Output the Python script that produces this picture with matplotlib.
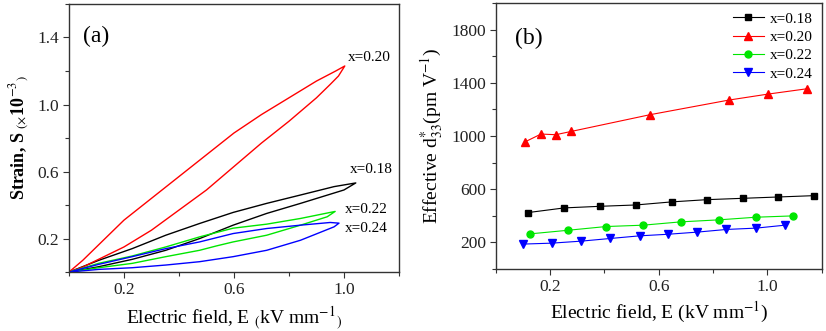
import matplotlib
matplotlib.use("Agg")
import matplotlib.pyplot as plt
from matplotlib.ticker import FixedLocator

plt.rcParams['font.family'] = ['Liberation Serif', 'DejaVu Serif']
plt.rcParams['mathtext.fontset'] = 'stix'

# ---------------- Panel (a): strain loops ----------------
# x=0.20 (red)
E20 = [0.0, 0.05, 0.10, 0.20, 0.30, 0.40, 0.50, 0.60, 0.70, 0.80, 0.90, 0.97, 1.003,
       0.98, 0.95, 0.90, 0.80, 0.70, 0.60, 0.50, 0.40, 0.30, 0.20, 0.10, 0.05, 0.0]
S20 = [0.0, 0.07, 0.15, 0.31, 0.44, 0.57, 0.70, 0.83, 0.94, 1.04, 1.14, 1.20, 1.23,
       1.17, 1.12, 1.04, 0.90, 0.77, 0.63, 0.49, 0.37, 0.25, 0.15, 0.07, 0.03, 0.0]
# x=0.18 (black)
E18 = [0.0, 0.108, 0.23, 0.352, 0.475, 0.597, 0.719, 0.842, 0.964, 1.043,
       1.0, 0.842, 0.719, 0.597, 0.475, 0.352, 0.23, 0.108, 0.0]
S18 = [0.0, 0.07, 0.14, 0.22, 0.29, 0.356, 0.41, 0.46, 0.51, 0.532,
       0.49, 0.41, 0.35, 0.28, 0.20, 0.13, 0.076, 0.032, 0.0]
# x=0.22 (green)
E22 = [0.0, 0.108, 0.23, 0.352, 0.475, 0.597, 0.719, 0.842, 0.968,
       0.939, 0.842, 0.719, 0.597, 0.536, 0.475, 0.352, 0.23, 0.108, 0.0]
S22 = [0.0, 0.052, 0.096, 0.15, 0.21, 0.262, 0.286, 0.32, 0.362,
       0.33, 0.28, 0.22, 0.18, 0.156, 0.13, 0.092, 0.052, 0.026, 0.0]
# x=0.24 (blue)
E24 = [0.0, 0.108, 0.23, 0.352, 0.475, 0.597, 0.719, 0.842, 0.95, 0.982,
       0.964, 0.842, 0.719, 0.597, 0.475, 0.352, 0.23, 0.108, 0.0]
S24 = [0.0, 0.046, 0.092, 0.14, 0.18, 0.23, 0.26, 0.28, 0.296, 0.292,
       0.27, 0.19, 0.13, 0.092, 0.062, 0.042, 0.026, 0.016, 0.0]

# ---------------- Panel (b): effective d33* ----------------
Eb18 = [0.12, 0.253, 0.385, 0.516, 0.647, 0.778, 0.909, 1.04, 1.17]
d18 = [425, 460, 472, 482, 505, 522, 532, 542, 552]
Eb20 = [0.107, 0.167, 0.221, 0.279, 0.567, 0.857, 1.001, 1.144]
d20 = [955, 1015, 1010, 1035, 1160, 1270, 1315, 1355]
Eb22 = [0.128, 0.267, 0.407, 0.542, 0.681, 0.820, 0.958, 1.095]
d22 = [265, 292, 320, 330, 355, 370, 390, 400]
Eb24 = [0.100, 0.206, 0.314, 0.421, 0.530, 0.635, 0.742, 0.849, 0.958, 1.064]
d24 = [188, 195, 210, 230, 250, 262, 278, 298, 308, 330]

labels = ['x=0.18', 'x=0.20', 'x=0.22', 'x=0.24']
colors = ['#000000', '#ff0000', '#00e600', '#0000ff']

fig = plt.figure(figsize=(8.26, 3.31), dpi=100)
axa = fig.add_axes([0.0835, 0.178, 0.3995, 0.81])
axb = fig.add_axes([0.600, 0.187, 0.395, 0.804])

tick_fs = 12.5
lab_fs = 14

# Panel a
axa.plot(E18, S18, color=colors[0], lw=1.0)
axa.plot(E20, S20, color=colors[1], lw=1.0)
axa.plot(E22, S22, color=colors[2], lw=1.0)
axa.plot(E24, S24, color=colors[3], lw=1.0)
axa.set_xlim(0, 1.2)
axa.set_ylim(0, 1.6)
axa.xaxis.set_major_locator(FixedLocator([0.2, 0.6, 1.0]))
axa.xaxis.set_minor_locator(FixedLocator([0.0, 0.4, 0.8, 1.2]))
axa.yaxis.set_major_locator(FixedLocator([0.2, 0.6, 1.0, 1.4]))
axa.yaxis.set_minor_locator(FixedLocator([0.0, 0.4, 0.8, 1.2, 1.6]))
axa.text(1.013, 1.28, 'x=0.20', fontsize=11, va='center')
axa.text(1.02, 0.61, 'x=0.18', fontsize=11, va='center')
axa.text(1.005, 0.372, 'x=0.22', fontsize=11, va='center')
axa.text(1.005, 0.258, 'x=0.24', fontsize=11, va='center')
axa.text(0.042, 0.88, '(a)', transform=axa.transAxes, fontsize=17, va='center')
axa.set_xlabel(r'Electric field, E $_{(}$kV mm$^{-1}$$_{)}$', fontsize=lab_fs, labelpad=5)
axa.set_ylabel(r'Strain, S $_{(\times}$10$^{-3}$$_{)}$', fontsize=13, fontweight='bold', labelpad=4)

# Panel b
axb.plot(Eb18, d18, color=colors[0], lw=0.8, marker='s', ms=5, label=labels[0])
axb.plot(Eb20, d20, color=colors[1], lw=0.8, marker='^', ms=6, label=labels[1])
axb.plot(Eb22, d22, color=colors[2], lw=0.8, marker='o', ms=5, label=labels[2])
axb.plot(Eb24, d24, color=colors[3], lw=0.8, marker='v', ms=6, label=labels[3])
axb.set_xlim(0, 1.2)
axb.set_ylim(0, 2000)
axb.xaxis.set_major_locator(FixedLocator([0.2, 0.6, 1.0]))
axb.xaxis.set_minor_locator(FixedLocator([0.0, 0.4, 0.8, 1.2]))
axb.yaxis.set_major_locator(FixedLocator([200, 600, 1000, 1400, 1800]))
axb.yaxis.set_minor_locator(FixedLocator([0, 400, 800, 1200, 1600, 2000]))
axb.text(0.06, 0.865, '(b)', transform=axb.transAxes, fontsize=17, va='center')
axb.set_xlabel(r'Electric field, E (kV mm$^{-1}$)', fontsize=lab_fs, labelpad=4)
axb.set_ylabel(r'Effective d$^{*}_{33}$(pm V$^{-1}$)', fontsize=lab_fs, labelpad=4)
leg = axb.legend(loc='upper right', frameon=False, fontsize=11, handlelength=2.0,
                 handletextpad=0.4, labelspacing=0.3, borderaxespad=0.2)

for ax in (axa, axb):
    ax.tick_params(axis='both', which='major', direction='out', length=4, width=0.8,
                   labelsize=tick_fs, pad=3, colors='#333333', labelcolor='#222222')
    ax.tick_params(axis='both', which='minor', direction='out', length=3, width=0.8,
                   colors='#333333')
    for sp in ax.spines.values():
        sp.set_linewidth(1.0)
        sp.set_color('#333333')

fig.savefig('out.png', dpi=100)
